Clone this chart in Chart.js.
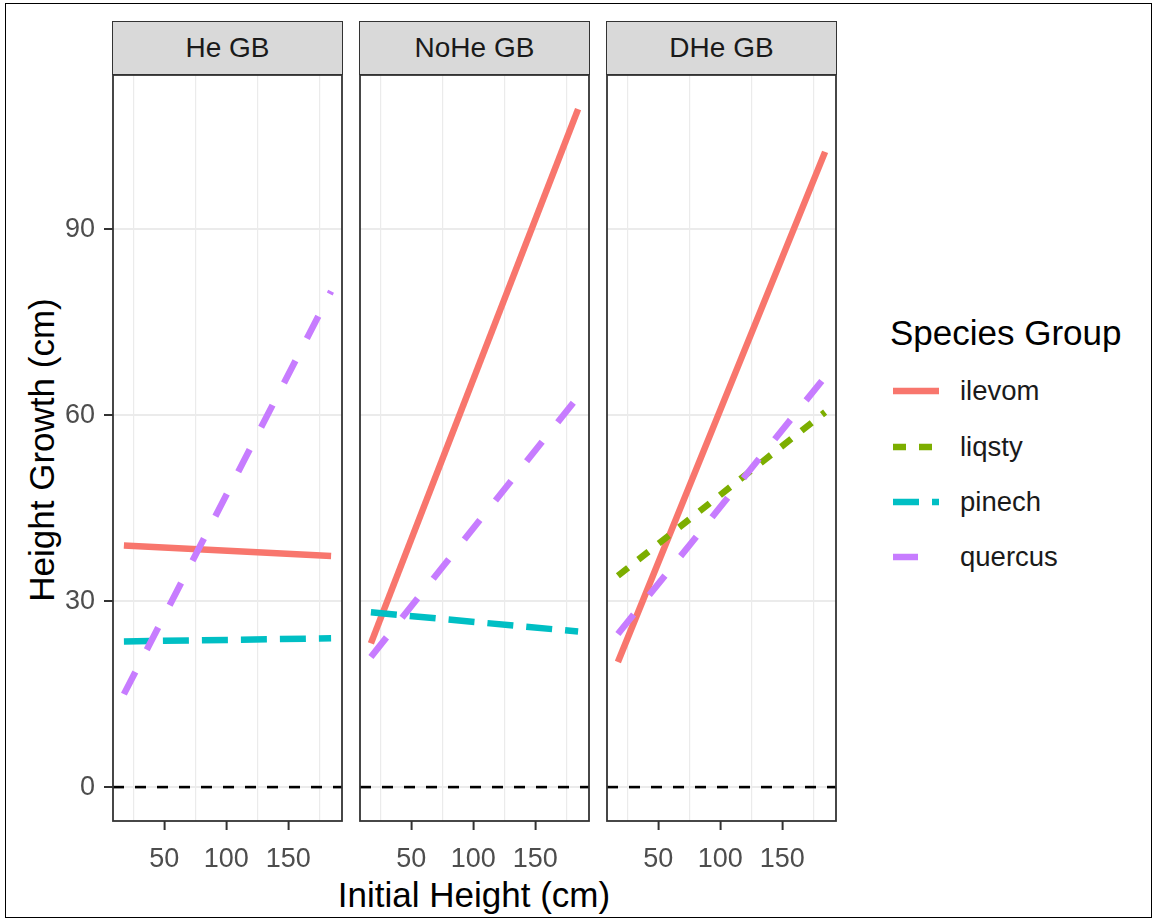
<!DOCTYPE html>
<html>
<head>
<meta charset="utf-8">
<script src="https://cdn.jsdelivr.net/npm/chart.js@4/dist/chart.umd.min.js"></script>
<style>
  body { margin: 0; background: #fff; font-family: "Liberation Sans", Arial, sans-serif; }
  #page { position: relative; width: 1155px; height: 921px; overflow: hidden; background: #fff; }
  #frame { position: absolute; left: 5px; top: 3px; width: 1147px; height: 915px; border: 1px solid #000; box-sizing: border-box; }
  .strip {
    position: absolute; top: 21px; height: 54px; box-sizing: border-box;
    background: #D9D9D9; border: 1.8px solid #333; color: #1A1A1A;
    font-size: 28px; display: flex; align-items: center; justify-content: center;
  }
  canvas { position: absolute; }
  .title { position: absolute; color: #000; font-size: 35px; white-space: nowrap; }
  #ytitle { left: 42px; top: 450px; transform: translate(-50%, -50%) rotate(-90deg); }
  #xtitle { left: 474px; top: 895px; transform: translate(-50%, -50%); }
  #legend { position: absolute; left: 890px; top: 308px; }
  #legend .ltitle { font-size: 35px; color: #000; height: 50px; line-height: 50px; white-space: nowrap; }
  #legend .item { position: absolute; left: 0; height: 40px; display: flex; align-items: center; }
  #legend .item span { position: absolute; left: 70px; font-size: 27.5px; color: #1A1A1A; white-space: nowrap; }
</style>
</head>
<body>
<div id="page">
  <div id="frame"></div>
  <div id="ytitle" class="title">Height Growth (cm)</div>
  <div id="xtitle" class="title">Initial Height (cm)</div>
  <div id="legend"><div class="ltitle">Species Group</div></div>
</div>
<script>
// ── data ──

const panelNames = ["He GB", "NoHe GB", "DHe GB"];
const species = ["ilevom", "liqsty", "pinech", "quercus"];
const speciesColors = ["#F8766D", "#7CAE00", "#00BFC4", "#C77CFF"];
const speciesDash = [[], [13, 13], [26, 13], [25, 25]];

// fitted lines: x ends shared, y at each end
const xEnds = [17.4, 184.6];
const heIlevom = [39.0, 37.3];
const hePinech = [23.5, 24.0];
const heQuercus = [15.0, 80.0];
const noheIlevom = [23.2, 109.4];
const nohePinech = [28.2, 25.1];
const noheQuercus = [21.0, 63.0];
const dheIlevom = [20.2, 102.5];
const dheLiqsty = [34.1, 60.5];
const dheQuercus = [24.7, 66.2];

const zeroLine = 0;
const xTicks = [25, 50, 75, 100, 125, 150, 175];
const yTicks = [0, 30, 60, 90];

const panelLines = [
  { ilevom: heIlevom, pinech: hePinech, quercus: heQuercus },
  { ilevom: noheIlevom, pinech: nohePinech, quercus: noheQuercus },
  { ilevom: dheIlevom, liqsty: dheLiqsty, quercus: dheQuercus },
];

// ── layout ──

const X_MIN = 8.6, X_MAX = 193.4;
const Y_MIN = -5.47, Y_MAX = 114.9;
const PANEL_LEFT = [113, 360, 607];
const PANEL_W = 229;
const PANEL_TOP = 75, PANEL_H = 746;
const X_AXIS_H = 59;
const PAD = 3;
const TICK_FONT = { family: "'Liberation Sans', Arial, sans-serif", size: 27 };

const page = document.getElementById("page");

const framePlugin = {
  id: "panelFrame",
  afterDraw(chart) {
    const { ctx, chartArea: a } = chart;
    ctx.save();
    ctx.strokeStyle = "#333";
    ctx.lineWidth = 1.8;
    ctx.strokeRect(a.left, a.top, a.right - a.left, a.bottom - a.top);
    ctx.restore();
  },
};

function makePanel(i) {
  const L = PANEL_LEFT[i];
  const showY = i === 0;
  const yW = showY ? L : PAD;

  const strip = document.createElement("div");
  strip.className = "strip";
  strip.style.left = (L - 0.9) + "px";
  strip.style.width = (PANEL_W + 1.8) + "px";
  strip.textContent = panelNames[i];
  page.appendChild(strip);

  const canvas = document.createElement("canvas");
  canvas.width = yW + PANEL_W + PAD;
  canvas.height = PAD + PANEL_H + X_AXIS_H;
  canvas.style.left = (L - yW) + "px";
  canvas.style.top = (PANEL_TOP - PAD) + "px";
  page.appendChild(canvas);

  const datasets = [
    {
      data: [{ x: X_MIN, y: zeroLine }, { x: X_MAX, y: zeroLine }],
      borderColor: "#000",
      borderWidth: 2.6,
      borderDash: [11, 11],
      order: 10,
    },
  ];
  species.forEach((sp, k) => {
    const ys = panelLines[i][sp];
    if (!ys) return;
    datasets.push({
      label: sp,
      data: xEnds.map((x, j) => ({ x, y: ys[j] })),
      borderColor: speciesColors[k],
      borderWidth: 6.5,
      borderDash: speciesDash[k],
      borderCapStyle: "butt",
      order: 5 - k,
    });
  });

  new Chart(canvas, {
    type: "line",
    data: { datasets },
    options: {
      responsive: false,
      animation: false,
      events: [],
      layout: { padding: { left: 0, right: PAD, top: PAD, bottom: 0 } },
      elements: { point: { radius: 0 }, line: { tension: 0 } },
      plugins: { legend: { display: false }, tooltip: { enabled: false } },
      scales: {
        x: {
          type: "linear",
          min: X_MIN,
          max: X_MAX,
          afterBuildTicks: (s) => { s.ticks = xTicks.map((v) => ({ value: v })); },
          afterFit: (s) => {
            s.height = X_AXIS_H;
            s.paddingLeft = 0;
            s.paddingRight = 0;
          },
          border: { display: false },
          grid: {
            color: (c) => (c.tick && c.tick.value % 50 === 0 ? "rgba(0,0,0,0)" : "#EBEBEB"),
            lineWidth: 1.2,
            tickColor: (c) => (c.tick && c.tick.value % 50 === 0 ? "#333" : "rgba(0,0,0,0)"),
            tickLength: 9,
            tickWidth: 2,
          },
          ticks: {
            autoSkip: false,
            maxRotation: 0,
            padding: 13,
            color: "#4D4D4D",
            font: TICK_FONT,
            callback: (v) => (v % 50 === 0 ? String(v) : ""),
          },
        },
        y: {
          type: "linear",
          min: Y_MIN,
          max: Y_MAX,
          afterBuildTicks: (s) => { s.ticks = yTicks.map((v) => ({ value: v })); },
          afterFit: (s) => {
            s.width = yW;
            s.paddingTop = 0;
            s.paddingBottom = 0;
          },
          border: { display: false },
          grid: {
            color: "#EBEBEB",
            lineWidth: 2,
            drawTicks: showY,
            tickColor: "#333",
            tickLength: 9,
            tickWidth: 2,
          },
          ticks: {
            display: showY,
            padding: 9,
            color: "#4D4D4D",
            font: TICK_FONT,
          },
        },
      },
    },
    plugins: [framePlugin],
  });
}

panelNames.forEach((_, i) => makePanel(i));

// ── legend ──

const legend = document.getElementById("legend");
const legendRows = [83, 139, 194, 249];
species.forEach((sp, k) => {
  const item = document.createElement("div");
  item.className = "item";
  item.style.top = (legendRows[k] - 20) + "px";
  const dash = speciesDash[k].length ? speciesDash[k].join(" ") : "none";
  item.innerHTML =
    `<svg width="50" height="40"><line x1="3" y1="20" x2="49" y2="20" stroke="${speciesColors[k]}" ` +
    `stroke-width="6.5" stroke-dasharray="${dash}"/></svg><span>${sp}</span>`;
  legend.appendChild(item);
});
</script>
</body>
</html>
